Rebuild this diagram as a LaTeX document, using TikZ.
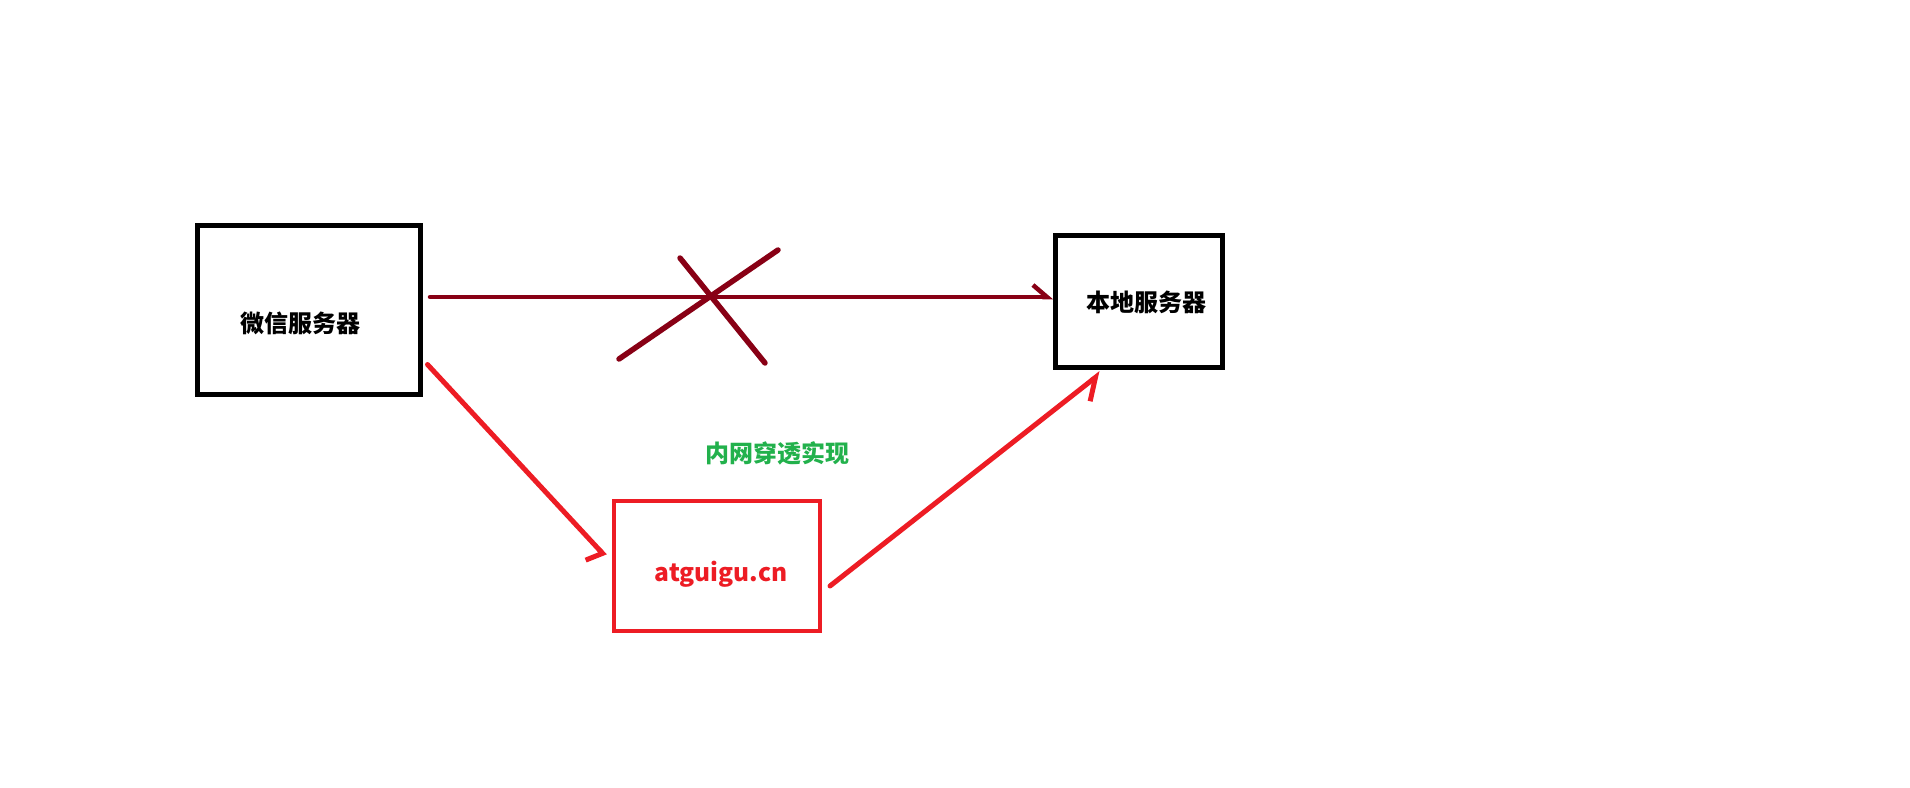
\documentclass[tikz,border=0pt]{standalone}
\usepackage{fontspec}
\usepackage{tikz}
\usetikzlibrary{arrows.meta}
\usetikzlibrary{positioning}
\newfontfamily\cjk{Noto Sans CJK SC}
\tikzset{server/.style = {draw, line width = 5, inner sep = 0}}
\tikzset{servertext/.style = {font = \cjk\bfseries\fontsize{24}{28}\selectfont, inner sep = 0}}
\definecolor{mdarkred}{HTML}{880015}
\definecolor{mred}{HTML}{ED1C24}
\definecolor{mgreen}{HTML}{22B14C}

\begin{document}
\begin{tikzpicture}[x = 1pt, y = -1pt]
  \fill [white] (0, 0) rectangle (1910, 787);
  \useasboundingbox (0, 0) rectangle (1910, 787);

  % the three boxes
  \node [server, minimum width = 223, minimum height = 169] (wechat) at (309, 310) {};
  \node [server, minimum width = 167, minimum height = 132] (local) at (1139, 301.5) {};
  \node [server, draw = mred, line width = 4, minimum width = 206, minimum height = 130] (tunnel) at (717, 566) {};

  \node [servertext] (wechattext) at (300, 323) {微信服务器};
  \node [servertext] (localtext) at (1146, 302) {本地服务器};
  \node [servertext, text = mred, font = \cjk\bfseries\fontsize{24.5}{30}\selectfont] (tunneltext) at (721, 574) {atguigu.cn};
  \node [servertext, text = mgreen] (howto) at (777, 453) {内网穿透实现};

  % direct path, crossed out
  \draw [mdarkred, line width = 4.5, line cap = round, -{Straight Barb[harpoon, length = 14pt, width = 24pt]}]
    ([xshift = 7pt, yshift = 13pt]wechat.east) -- ([yshift = 13pt]wechat.east -| local.west);
  \draw [mdarkred, line width = 5.5, line cap = round] (619, 359) -- (778, 250);
  \draw [mdarkred, line width = 5.5, line cap = round] (680, 258) -- (765, 363);

  % path through the tunnel
  \draw [mred, line width = 5, line cap = round, -{Straight Barb[harpoon, swap, length = 6.5pt, width = 34pt]}]
    ([xshift = 4.5pt, yshift = 32.5pt]wechat.south east) -- ([xshift = -7pt, yshift = 10pt]tunnel.west);
  \draw [mred, line width = 5, line cap = round, -{Straight Barb[harpoon, swap, length = 19pt, width = 31pt]}]
    ([xshift = 8pt, yshift = -20pt]tunnel.east) -- ([xshift = -38pt, yshift = -3pt]local.south);
\end{tikzpicture}
\end{document}
